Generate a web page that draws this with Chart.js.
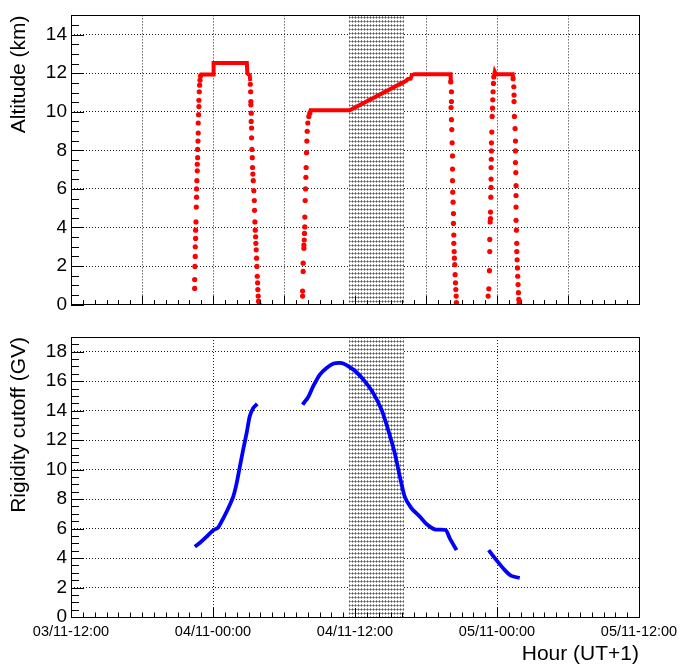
<!DOCTYPE html>
<html>
<head>
<meta charset="utf-8">
<script src="https://cdn.jsdelivr.net/npm/chart.js@4.4.0/dist/chart.umd.min.js"></script>
<style>
  body { margin: 0; background: #fff; }
  #wrap { position: relative; width: 679px; height: 667px; }
  canvas { position: absolute; left: 0; }
</style>
</head>
<body>
<div id="wrap">
  <canvas id="alt" width="679" height="320" style="top:0"></canvas>
  <canvas id="rig" width="679" height="347" style="top:320px"></canvas>
</div>
<script>
// hours counted from 03/11-12:00 (UT+1)
const xTickLabels = ['03/11-12:00', '04/11-00:00', '04/11-12:00', '05/11-00:00', '05/11-12:00'];
const shadeHours = [23.5, 28.1];

// altitude plateaus (drawn as thick line), null breaks the line
const plateauHours = [10.95, 11.0, 12.0, 12.05, 14.86, 14.9, 15.1, 15.15, null,
  20.18, 20.25, 23.56, 28.35, 28.45, 28.7, 28.8, 29.0, 32.07, 32.09, null,
  35.73, 35.81, 35.9, 37.33, 37.36];
const plateauAltitude = [11.86, 11.93, 11.93, 12.53, 12.53, 12.0, 11.9, 11.6, null,
  9.93, 10.08, 10.08, 11.62, 11.7, 11.72, 11.9, 11.95, 11.95, 11.6, null,
  11.81, 12.07, 11.95, 11.95, 11.72];

// altitude samples during ascents / descents
const dotHours = [
  10.45, 10.45, 10.47, 10.50, 10.50, 10.53, 10.53, 10.56, 10.59, 10.61, 10.61, 10.64, 10.67,
  10.67, 10.70, 10.70, 10.73, 10.75, 10.75, 10.78, 10.81, 10.81, 10.84, 10.87, 10.90, 10.95,
  15.15, 15.18, 15.20, 15.20, 15.23, 15.23, 15.26, 15.26, 15.29, 15.32, 15.34, 15.37, 15.40,
  15.45, 15.49, 15.51, 15.54, 15.57, 15.60, 15.62, 15.65, 15.68, 15.71, 15.74, 15.77, 15.79,
  15.82, 15.85, 15.91,
  19.57, 19.57, 19.62, 19.62, 19.68, 19.68, 19.71, 19.73, 19.76, 19.76, 19.79, 19.82, 19.85,
  19.87, 19.90, 19.93, 19.96, 20.01, 20.10, 20.18,
  32.09, 32.15, 32.15, 32.12, 32.15, 32.18, 32.21, 32.24, 32.24, 32.24, 32.26, 32.29, 32.32,
  32.32, 32.35, 32.35, 32.38, 32.40, 32.43, 32.46, 32.49, 32.52, 32.55, 32.57,
  35.25, 35.31, 35.36, 35.39, 35.39, 35.42, 35.45, 35.45, 35.48, 35.50, 35.50, 35.50, 35.52,
  35.53, 35.53, 35.56, 35.59, 35.62, 35.64, 35.67, 35.70, 35.73,
  37.36, 37.42, 37.44, 37.44, 37.47, 37.53, 37.56, 37.56, 37.56, 37.59, 37.61, 37.61, 37.61,
  37.61, 37.64, 37.67, 37.67, 37.70, 37.73, 37.75, 37.78, 37.81, 37.84, 37.87];
const dotAltitude = [
  0.84, 1.30, 1.98, 2.50, 3.00, 3.43, 3.86, 4.29, 5.06, 5.57, 6.00, 6.43, 6.94,
  7.28, 7.62, 8.05, 8.48, 8.90, 9.42, 9.85, 10.27, 10.60, 11.04, 11.38, 11.64, 11.86,
  11.43, 11.04, 10.53, 10.36, 9.93, 9.50, 9.16, 8.65, 8.05, 7.62, 7.11, 6.77, 6.43,
  5.91, 5.40, 4.89, 4.29, 3.86, 3.52, 3.18, 2.84, 2.41, 1.98, 1.47, 1.13, 0.78,
  0.44, 0.18, 0.00,
  0.44, 0.70, 1.72, 2.15, 2.92, 3.09, 3.35, 3.69, 4.03, 4.54, 5.40, 6.00, 6.60,
  7.11, 7.88, 8.48, 8.99, 9.42, 9.76, 9.93,
  11.55, 11.04, 10.53, 10.22, 9.59, 9.08, 8.39, 7.71, 7.03, 6.43, 5.83, 5.31, 4.72,
  4.21, 3.61, 3.18, 2.75, 2.41, 2.07, 1.55, 1.13, 0.78, 0.44, 0.10,
  0.44, 0.82, 1.76, 2.75, 3.38, 4.29, 4.46, 4.80, 5.57, 6.08, 6.51, 7.11, 7.54,
  7.97, 8.39, 8.95, 9.76, 10.19, 10.62, 11.04, 11.47, 11.81,
  11.72, 11.30, 10.87, 10.53, 9.76, 9.13, 8.48, 7.97, 7.37, 6.85, 6.17, 5.66, 5.06,
  4.37, 3.86, 3.18, 2.75, 2.32, 1.90, 1.47, 1.04, 0.62, 0.27, 0.07];

// rigidity cutoff along the track
const rigidityHours = [10.47, 10.9, 11.46, 11.97, 12.44, 12.87, 13.29, 13.71, 14.0, 14.27, 14.55,
  14.84, 15.1, 15.4, 15.74, null,
  19.57, 20.05, 20.47, 21.03, 21.6, 22.15, 22.72, 23.0, 23.42, 24.13, 24.83, 25.53, 26.24,
  26.8, 27.36, 27.79, 28.2, 28.77, 29.48, 30.04, 30.74, 31.67, 32.01, 32.58, null,
  35.3, 35.95, 36.66, 37.22, 37.92];
const rigidityGV = [4.77, 5.04, 5.45, 5.86, 6.08, 6.7, 7.38, 8.17, 9.08, 10.21, 11.35,
  12.48, 13.6, 14.18, 14.46, null,
  14.41, 14.93, 15.66, 16.45, 16.9, 17.18, 17.24, 17.2, 17.02, 16.61, 15.99, 15.21, 14.07,
  12.71, 11.12, 9.53, 8.17, 7.38, 6.81, 6.31, 5.95, 5.9, 5.34, 4.54, null,
  4.54, 3.86, 3.18, 2.79, 2.65];

const FONT = "'Liberation Sans', Arial, Helvetica, sans-serif";
const pts = (xs, ys) => xs.map((x, i) => ({ x: x, y: ys[i] }));

function hatch(ctx) {
  const c = document.createElement('canvas');
  c.width = 3; c.height = 4;
  const p = c.getContext('2d');
  p.fillStyle = '#fff'; p.fillRect(0, 0, 3, 4);
  p.fillStyle = '#9a9a9a';
  p.fillRect(1, 0, 1, 1); p.fillRect(0, 1, 1, 1); p.fillRect(2, 1, 1, 1); p.fillRect(1, 2, 1, 1);
  p.fillStyle = '#555'; p.fillRect(1, 1, 1, 1);
  return ctx.createPattern(c, 'repeat');
}

// shaded period + ROOT-like inner ticks and frame
const rootFrame = {
  id: 'rootFrame',
  beforeDatasetsDraw(chart) {
    const { ctx, chartArea: a, scales: { x } } = chart;
    const x0 = Math.round(x.getPixelForValue(shadeHours[0]));
    const x1 = Math.round(x.getPixelForValue(shadeHours[1]));
    ctx.save();
    ctx.fillStyle = hatch(ctx);
    ctx.fillRect(x0, a.top, x1 - x0, a.bottom - a.top);
    ctx.restore();
  },
  afterDatasetsDraw(chart, args, opts) {
    const { ctx, chartArea: a, scales: { x, y } } = chart;
    ctx.save();
    ctx.strokeStyle = '#000';
    ctx.lineWidth = 1;
    ctx.beginPath();
    y.ticks.forEach(t => {
      const py = Math.round(y.getPixelForValue(t.value)) + 0.5;
      const len = t.value % 2 === 0 ? 13 : 8;
      ctx.moveTo(a.left, py); ctx.lineTo(a.left + len, py);
    });
    x.ticks.forEach(t => {
      const px = Math.round(x.getPixelForValue(t.value)) + 0.5;
      const len = t.value % opts.major === 0 ? 9 : 4.5;
      ctx.moveTo(px, a.bottom); ctx.lineTo(px, a.bottom - len);
    });
    ctx.stroke();
    ctx.strokeRect(Math.round(a.left) + 0.5, Math.round(a.top) + 0.5,
      Math.round(a.right - a.left), Math.round(a.bottom - a.top));
    ctx.restore();
  }
};

function gridColor(step) {
  return c => (c.tick && c.tick.value % step === 0) ? '#222' : 'rgba(0,0,0,0)';
}

function yAxis(max, title) {
  return {
    min: 0, max: max,
    ticks: {
      stepSize: 0.5, autoSkip: false, padding: 4, color: '#000',
      font: { family: FONT, size: 19 },
      callback: v => (v % 2 === 0 ? v : '')
    },
    grid: { color: gridColor(2), lineWidth: 1, drawTicks: false },
    border: { display: false, dash: [1, 2] },
    title: {
      display: true, text: title, align: 'end', color: '#000',
      font: { family: FONT, size: 21 }, padding: { top: 7, bottom: 0 }
    },
    afterFit: s => { s.width = 71; }
  };
}

new Chart(document.getElementById('alt'), {
  type: 'scatter',
  data: {
    datasets: [
      {
        data: pts(plateauHours, plateauAltitude), showLine: true, spanGaps: false,
        borderColor: '#ff0000', borderWidth: 4, pointRadius: 0
      },
      {
        data: pts(dotHours, dotAltitude), showLine: false,
        pointRadius: 2.6, pointBackgroundColor: '#ff0000', pointBorderWidth: 0
      }
    ]
  },
  options: {
    responsive: false, animation: false,
    layout: { padding: { top: 13, right: 40, left: 0, bottom: 0 } },
    plugins: { legend: { display: false }, tooltip: { enabled: false }, rootFrame: { major: 6 } },
    scales: {
      x: {
        type: 'linear', min: 0, max: 48,
        ticks: { stepSize: 1, autoSkip: false, display: false },
        grid: { color: gridColor(6), lineWidth: 1, drawTicks: false },
        border: { display: false, dash: [1, 2] },
        afterFit: s => { s.height = 15; }
      },
      y: yAxis(15, 'Altitude (km)')
    }
  },
  plugins: [rootFrame]
});

new Chart(document.getElementById('rig'), {
  type: 'scatter',
  data: {
    datasets: [{
      data: pts(rigidityHours, rigidityGV), showLine: true, spanGaps: false,
      borderColor: '#0000ff', borderWidth: 3.8, pointRadius: 0, tension: 0.2
    }]
  },
  options: {
    responsive: false, animation: false,
    layout: { padding: { top: 17, right: 40, left: 0, bottom: 0 } },
    plugins: { legend: { display: false }, tooltip: { enabled: false }, rootFrame: { major: 12 } },
    scales: {
      x: {
        type: 'linear', min: 0, max: 48,
        ticks: {
          stepSize: 1, autoSkip: false, maxRotation: 0, padding: 6, color: '#000',
          font: { family: FONT, size: 14.5 },
          callback: v => (v % 12 === 0 ? xTickLabels[v / 12] : '')
        },
        grid: { color: gridColor(12), lineWidth: 1, drawTicks: false },
        border: { display: false, dash: [1, 2] },
        title: {
          display: true, text: 'Hour (UT+1)', align: 'end', color: '#000',
          font: { family: FONT, size: 21 }, padding: { top: 0, bottom: 0 }
        },
        afterFit: s => { s.height = 50; s.paddingRight = 0; s.paddingLeft = 0; }
      },
      y: yAxis(19, 'Rigidity cutoff (GV)')
    }
  },
  plugins: [rootFrame]
});
</script>
</body>
</html>
